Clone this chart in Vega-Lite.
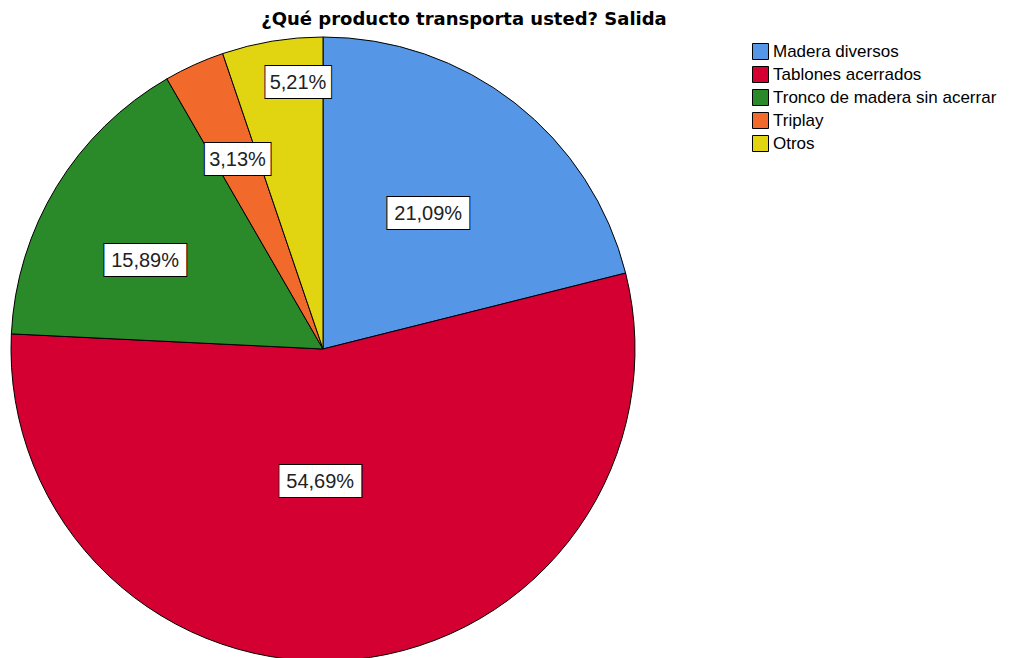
{
  "$schema": "https://vega.github.io/schema/vega-lite/v6.json",
  "autosize": "none",
  "width": 646,
  "height": 618,
  "padding": {"top": 40, "left": 0, "right": 365, "bottom": 0},
  "background": "white",
  "title": {
    "text": "¿Qué producto transporta usted? Salida",
    "font": "DejaVu Sans",
    "fontSize": 18,
    "fontWeight": "bold",
    "color": "black",
    "anchor": "middle",
    "dx": 141,
    "offset": 6
  },
  "data": {
    "values": [
      {"cat": "Madera diversos", "orden": 1, "pct": 21.09, "label": "21,09%"},
      {"cat": "Tablones acerrados", "orden": 2, "pct": 54.69, "label": "54,69%"},
      {"cat": "Tronco de madera sin acerrar", "orden": 3, "pct": 15.89, "label": "15,89%"},
      {"cat": "Triplay", "orden": 4, "pct": 3.13, "label": "3,13%"},
      {"cat": "Otros", "orden": 5, "pct": 5.21, "label": "5,21%"}
    ]
  },
  "encoding": {
    "theta": {"field": "pct", "type": "quantitative", "stack": true},
    "order": {"field": "orden", "type": "quantitative"}
  },
  "layer": [
    {
      "mark": {"type": "arc", "outerRadius": 312, "stroke": "black", "strokeWidth": 1},
      "encoding": {
        "color": {
          "field": "cat",
          "type": "nominal",
          "sort": ["Madera diversos", "Tablones acerrados", "Tronco de madera sin acerrar", "Triplay", "Otros"],
          "scale": {
            "domain": ["Madera diversos", "Tablones acerrados", "Tronco de madera sin acerrar", "Triplay", "Otros"],
            "range": ["#5596E6", "#D50032", "#2A8A2A", "#F26A2B", "#E1D511"]
          },
          "legend": {
            "title": null,
            "orient": "none",
            "legendX": 752,
            "legendY": 3,
            "padding": 0,
            "symbolType": "square",
            "symbolSize": 256,
            "symbolStrokeColor": "black",
            "symbolStrokeWidth": 1,
            "symbolOpacity": 1,
            "labelFont": "Liberation Sans",
            "labelFontSize": 17,
            "labelColor": "black",
            "labelOffset": 4,
            "rowPadding": 2,
            "labelLimit": 400
          }
        }
      }
    },
    {
      "mark": {"type": "text", "font": "DejaVu Sans Mono", "fontSize": 27, "fill": "white", "stroke": "black", "strokeWidth": 2, "align": "center", "baseline": "middle",
        "dx": {"expr": "datum.cat == 'Otros' ? 19 : datum.cat == 'Tablones acerrados' ? -16 : datum.cat == 'Tronco de madera sin acerrar' ? -8 : 0"},
        "dy": {"expr": "datum.cat == 'Tronco de madera sin acerrar' ? 16 : 0"}},
      "encoding": {
        "radius": {"value": {"expr": "datum.cat == 'Madera diversos' ? 171 : datum.cat == 'Tablones acerrados' ? 134 : datum.cat == 'Tronco de madera sin acerrar' ? 199 : datum.cat == 'Triplay' ? 207 : 270"}},
        "text": {"condition": {"test": "datum.pct < 10", "value": "████"}, "value": "█████"}
      }
    },
    {
      "mark": {"type": "text", "font": "DejaVu Sans Mono", "fontSize": 27, "fill": "white", "align": "center", "baseline": "middle",
        "dx": {"expr": "datum.cat == 'Otros' ? 19 : datum.cat == 'Tablones acerrados' ? -16 : datum.cat == 'Tronco de madera sin acerrar' ? -8 : 0"},
        "dy": {"expr": "datum.cat == 'Tronco de madera sin acerrar' ? 16 : 0"}},
      "encoding": {
        "radius": {"value": {"expr": "datum.cat == 'Madera diversos' ? 171 : datum.cat == 'Tablones acerrados' ? 134 : datum.cat == 'Tronco de madera sin acerrar' ? 199 : datum.cat == 'Triplay' ? 207 : 270"}},
        "text": {"condition": {"test": "datum.pct < 10", "value": "████"}, "value": "█████"}
      }
    },
    {
      "mark": {"type": "text", "font": "Liberation Sans", "fontSize": 20, "fill": "#222222", "align": "center", "baseline": "middle",
        "dx": {"expr": "datum.cat == 'Otros' ? 19 : datum.cat == 'Tablones acerrados' ? -16 : datum.cat == 'Tronco de madera sin acerrar' ? -8 : 0"},
        "dy": {"expr": "datum.cat == 'Tronco de madera sin acerrar' ? 16 : 0"}},
      "encoding": {
        "radius": {"value": {"expr": "datum.cat == 'Madera diversos' ? 171 : datum.cat == 'Tablones acerrados' ? 134 : datum.cat == 'Tronco de madera sin acerrar' ? 199 : datum.cat == 'Triplay' ? 207 : 270"}},
        "text": {"field": "label", "type": "nominal"}
      }
    }
  ],
  "config": {
    "view": {"stroke": null}
  }
}
